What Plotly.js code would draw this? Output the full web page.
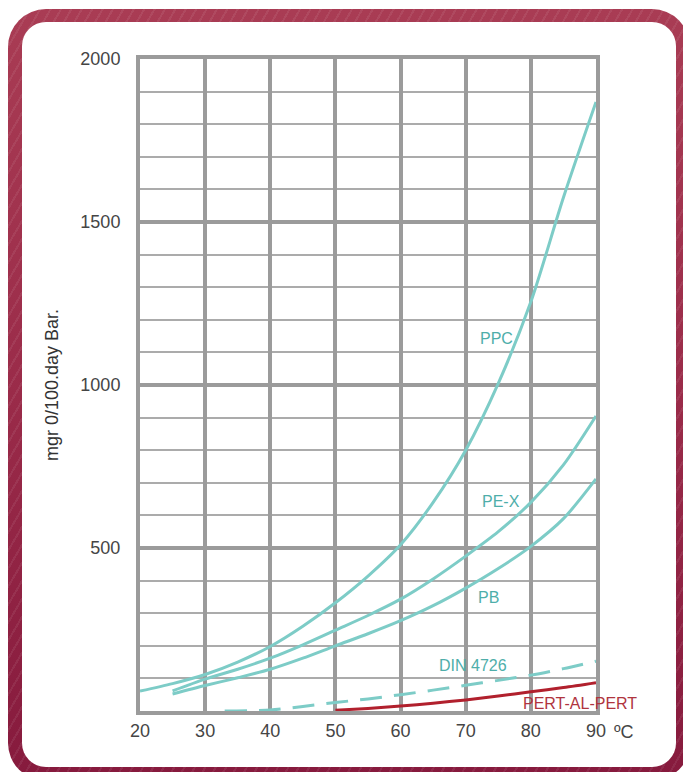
<!DOCTYPE html>
<html>
<head>
<meta charset="utf-8">
<script src="https://cdn.plot.ly/plotly-3.0.1.min.js"></script>
<style>
  html, body { margin: 0; padding: 0; background: #ffffff; overflow: hidden; }
  #frame {
    position: absolute; left: 8px; top: 9px; width: 682px; height: 772px;
    border-radius: 38px;
    background:
      repeating-linear-gradient(120deg, rgba(255,255,255,0.07) 0px, rgba(255,255,255,0.07) 2px, rgba(0,0,0,0) 2px, rgba(0,0,0,0) 9px),
      linear-gradient(180deg, #a93c54 0%, #9a2b49 50%, #861a3d 100%);
  }
  #inner {
    position: absolute; left: 22px; top: 22px; width: 654px; height: 745px;
    border-radius: 24px; background: #ffffff;
  }
  #chart { position: absolute; left: 0; top: 0; width: 683px; height: 772px; }
</style>
</head>
<body>
<div id="frame"></div>
<div id="inner"></div>
<div id="chart"></div>
<script>
// ---- data ----
const ppcX  = [20, 25, 30, 35, 40, 45, 50, 55, 60, 65, 70, 75, 80, 85, 90];
const ppcY  = [61, 84, 112, 150, 198, 260, 332, 414, 510, 640, 800, 1005, 1255, 1575, 1868];

const pexX  = [25, 30, 35, 40, 45, 50, 55, 60, 65, 70, 75, 80, 85, 90];
const pexY  = [62, 98, 128, 162, 203, 248, 293, 343, 405, 475, 550, 640, 755, 905];

const pbX   = [25, 30, 35, 40, 45, 50, 55, 60, 65, 70, 75, 80, 85, 90];
const pbY   = [52, 78, 102, 128, 162, 200, 237, 277, 323, 377, 437, 505, 590, 712];

const dinX  = [33, 40, 45, 50, 55, 60, 65, 70, 75, 80, 85, 90];
const dinY  = [0, 3, 14, 26, 37, 50, 64, 79, 94, 110, 130, 153];

const pertX = [50, 55, 60, 65, 70, 75, 80, 85, 90];
const pertY = [2, 8, 15, 24, 34, 46, 59, 72, 87];

const seriesNames = ['PPC', 'PE-X', 'PB', 'DIN 4726', 'PERT-AL-PERT'];
const labelX = [74.8, 75.4, 73.5, 71.1, 87.5];
const labelY = [1143, 644, 349, 140, 24];

const xTickVals = [20, 30, 40, 50, 60, 70, 80, 90];
const xTickText = ['20', '30', '40', '50', '60', '70', '80', '90'];
const yTickVals = [500, 1000, 1500, 2000];
const yTickText = ['500', '1000', '1500', '2000'];
const unitText = 'ºC';
const yTitle = 'mgr 0/100.day Bar.';

// ---- styles ----
const teal = '#7dccc7';
const tealText = '#4eaeaa';
const red = '#b1202d';
const redText = '#b0343e';
const gridCol = '#9b9b9b';
const minorCol = '#ababab';
const tickCol = '#454545';

const traces = [
  {x: ppcX, y: ppcY, name: seriesNames[0], mode: 'lines', line: {color: teal, width: 3, shape: 'spline', smoothing: 0.8}},
  {x: pexX, y: pexY, name: seriesNames[1], mode: 'lines', line: {color: teal, width: 3, shape: 'spline', smoothing: 0.8}},
  {x: pbX, y: pbY, name: seriesNames[2], mode: 'lines', line: {color: teal, width: 3, shape: 'spline', smoothing: 0.8}},
  {x: dinX, y: dinY, name: seriesNames[3], mode: 'lines', line: {color: teal, width: 3, shape: 'spline', smoothing: 0.8, dash: '22px,12px'}},
  {x: pertX, y: pertY, name: seriesNames[4], mode: 'lines', line: {color: red, width: 3, shape: 'spline', smoothing: 0.8}}
];

const labelColors = [tealText, tealText, tealText, tealText, redText];
const annotations = seriesNames.map((n, i) => ({
  x: labelX[i], y: labelY[i], xref: 'x', yref: 'y', text: n, showarrow: false,
  font: {family: 'Liberation Sans, Arial, sans-serif', size: 16, color: labelColors[i]},
  xanchor: 'center', yanchor: 'middle'
}));
annotations.push({
  x: 90, y: 0, xref: 'x', yref: 'y', text: unitText, showarrow: false,
  xanchor: 'center', yanchor: 'middle', xshift: 28, yshift: -21,
  font: {family: 'Liberation Sans, Arial, sans-serif', size: 18, color: tickCol}
});

const layout = {
  width: 683, height: 772,
  margin: {l: 140, r: 87, t: 59, b: 61, pad: 0},
  paper_bgcolor: 'rgba(0,0,0,0)',
  plot_bgcolor: 'rgba(0,0,0,0)',
  showlegend: false,
  font: {family: 'Liberation Sans, Arial, sans-serif', size: 18, color: tickCol},
  xaxis: {
    range: [20, 90], tickmode: 'array', tickvals: xTickVals, ticktext: xTickText,
    showgrid: true, gridcolor: gridCol, gridwidth: 4,
    showline: true, linecolor: gridCol, linewidth: 4, mirror: true,
    zeroline: false, ticks: '', ticklabelstandoff: 0,
    tickfont: {size: 18, color: tickCol}, fixedrange: true
  },
  yaxis: {
    range: [0, 2000], tickmode: 'array', tickvals: yTickVals, ticktext: yTickText,
    showgrid: true, gridcolor: gridCol, gridwidth: 4,
    minor: {dtick: 100, tick0: 0, showgrid: true, gridcolor: minorCol, gridwidth: 2, ticks: ''},
    showline: true, linecolor: gridCol, linewidth: 4, mirror: true,
    zeroline: false, ticks: '', ticklabelstandoff: 12,
    tickfont: {size: 18, color: tickCol},
    title: {text: yTitle, standoff: 18, font: {size: 18, color: '#333333'}},
    fixedrange: true
  },
  annotations: annotations
};

Plotly.newPlot('chart', traces, layout, {displayModeBar: false, staticPlot: true});
</script>
</body>
</html>
